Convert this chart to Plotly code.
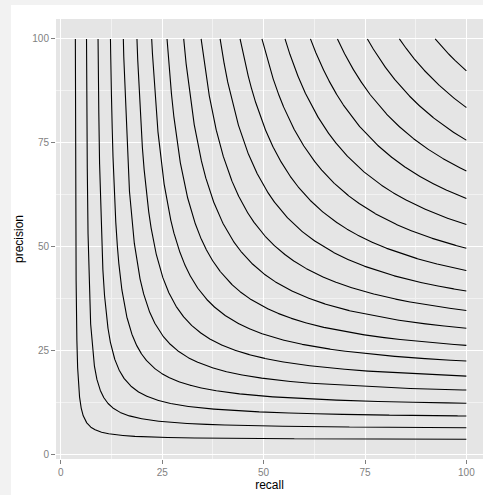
import numpy as np
import plotly.graph_objects as go

# F-measure levels (in %) of the iso-F curves
f_levels = [6.9, 11.9, 16.8, 21.8, 26.7, 31.6, 36.6, 41.5, 46.5, 51.4,
            56.4, 61.3, 66.3, 71.2, 76.2, 81.1, 86.1, 91.0, 96.0]
x_ticks = [0, 25, 50, 75, 100]
y_ticks = [0, 25, 50, 75, 100]
x_title = "recall"
y_title = "precision"

fig = go.Figure()
for f in f_levels:
    r_min = f * 100 / (200 - f)
    recall = r_min + (100 - r_min) * np.linspace(0, 1, 4000) ** 3
    recall = np.unique(np.clip(recall, r_min, 100))
    precision = np.clip(f * recall / (2 * recall - f), 0, 100)
    fig.add_trace(go.Scatter(x=recall, y=precision, mode="lines",
                             line=dict(color="black", width=1.1),
                             hoverinfo="skip", showlegend=False))

# light grey page strips (top and left) around the white card
fig.add_shape(type="rect", xref="paper", yref="paper",
              x0=-0.2, x1=1.2, y0=1.0318, y1=1.2,
              fillcolor="#F2F2F2", line=dict(width=0), layer="below")
fig.add_shape(type="rect", xref="paper", yref="paper",
              x0=-0.2, x1=-0.1054, y0=-0.2, y1=1.2,
              fillcolor="#F2F2F2", line=dict(width=0), layer="below")

axis_common = dict(
    showgrid=True, gridcolor="white", gridwidth=1.2,
    minor=dict(showgrid=True, gridcolor="#F2F2F2", gridwidth=0.6, dtick=12.5, tick0=12.5),
    zeroline=False, showline=False, automargin=False,
    ticks="outside", ticklen=4, tickwidth=1, tickcolor="#7F7F7F",
    tickfont=dict(family="Liberation Sans, Arial, sans-serif", size=10, color="#7F7F7F"),
    title_font=dict(family="Liberation Sans, Arial, sans-serif", size=12, color="black"),
    tickmode="array",
)

fig.update_layout(
    width=483, height=495,
    margin=dict(l=56, r=0, t=19, b=36),
    paper_bgcolor="white",
    plot_bgcolor="#E5E5E5",
    xaxis=dict(axis_common, range=[-1.2, 104.1], tickvals=x_ticks,
               ticktext=[str(v) for v in x_ticks],
               title=dict(text=x_title, standoff=2)),
    yaxis=dict(axis_common, range=[-1.2, 104.8], tickvals=y_ticks,
               ticktext=[str(v) for v in y_ticks],
               title=dict(text=y_title, standoff=6)),
)

fig.write_html("out.html",
               config={"displayModeBar": False},
               post_script="document.body.style.margin='0';"
                           "document.body.style.overflow='hidden';"
                           "document.documentElement.style.overflow='hidden';")
